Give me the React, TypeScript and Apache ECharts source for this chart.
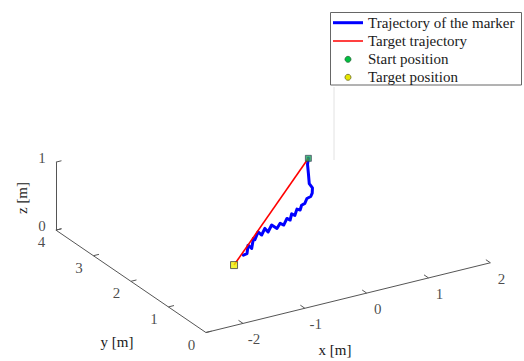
import React, { useEffect, useRef } from "react";
import * as echarts from "echarts";

// ---- data (metres) ----
const trajX = [0.47, 0.45, 0.47, 0.49, 0.56, 0.55, 0.52, 0.44, 0.40, 0.33, 0.30, 0.23, 0.19, 0.12, 0.09, 0.02, -0.05, -0.12, -0.19, -0.30, -0.37, -0.44, -0.51, -0.58, -0.65, -0.68, -0.72, -0.79, -0.82, -0.89];
const trajY = [2.33, 2.32, 2.33, 2.34, 2.37, 2.36, 2.35, 2.32, 2.31, 2.28, 2.27, 2.24, 2.23, 2.20, 2.19, 2.16, 2.13, 2.11, 2.08, 2.04, 2.02, 1.99, 1.96, 1.94, 1.91, 1.90, 1.88, 1.86, 1.84, 1.82];
const trajZ = [1.00, 0.92, 0.78, 0.62, 0.53, 0.46, 0.42, 0.42, 0.36, 0.36, 0.30, 0.34, 0.26, 0.31, 0.23, 0.28, 0.21, 0.26, 0.21, 0.30, 0.22, 0.30, 0.23, 0.30, 0.21, 0.24, 0.11, 0.18, 0.07, 0.07];
const startPos = [0.47, 2.33, 1.0];
const targetPos = [-1.09, 1.74, 0.0];

const xTicks = [-2, -1, 0, 1, 2];
const yTicks = [0, 1, 2, 3, 4];
const zTicks = [0, 1];
const xRange = [-2.6, 2];
const yRange = [0, 4];
const zRange = [0, 1];

const legendNames = ["Trajectory of the marker", "Target trajectory", "Start position", "Target position"];

// ---- view (orthographic projection of the 3-D axes onto the page) ----
const ORIGIN = [366.7, 293.1];
const EX = [61.84, -15.16];
const EY = [-37.5, -25.6];
const EZ = [0, -68];
const W = 524;
const H = 361;

function proj(x: number, y: number, z: number): number[] {
  return [
    ORIGIN[0] + x * EX[0] + y * EY[0] + z * EZ[0],
    ORIGIN[1] + x * EX[1] + y * EY[1] + z * EZ[1],
  ];
}

const FONT = "'Liberation Serif', 'Times New Roman', serif";
const AXIS_COLOR = "#555";
const TEXT_COLOR = "#1a1a1a";

export default function App() {
  const ref = useRef<HTMLDivElement>(null);
  useEffect(() => {
    if (!ref.current) return;
    const chart = echarts.init(ref.current, null, { renderer: "svg" });

    const x0 = xRange[0];
    const yTop = yRange[1];
    const axisSegs = [
      [proj(xRange[0], 0, 0), proj(xRange[1], 0, 0)],
      [proj(x0, yRange[0], 0), proj(x0, yRange[1], 0)],
      [proj(x0, yTop, zRange[0]), proj(x0, yTop, zRange[1])],
    ];
    const tickSegs: number[][][] = [];
    xTicks.forEach((t) => tickSegs.push([proj(t, 0, 0), proj(t, 0.12, 0)]));
    yTicks.forEach((t) => tickSegs.push([proj(x0, t, 0), proj(x0 + 0.09, t, 0)]));
    zTicks.forEach((t) => tickSegs.push([proj(x0, yTop, t), proj(x0 + 0.09, yTop, t)]));

    const labelSeries = (items: { p: number[]; n: string }[], offset: number[]) => ({
      type: "scatter",
      symbolSize: 0,
      silent: true,
      data: items.map((it) => ({ value: it.p, name: it.n })),
      label: {
        show: true,
        position: "inside",
        offset,
        formatter: "{b}",
        fontFamily: FONT,
        fontSize: 15,
        color: TEXT_COLOR,
        align: "center",
        verticalAlign: "middle",
      },
      z: 5,
    });

    const traj = trajX.map((x, i) => proj(x, trajY[i], trajZ[i]));

    const legendRows = [22.7, 41, 59.3, 77.3];
    const lx = 333;
    const graphic: any[] = [
      { type: "line", shape: { x1: 334, y1: 87, x2: 334, y2: 160 }, style: { stroke: "#e2e2e2", lineWidth: 1 }, z: 1 },
      { type: "rect", shape: { x: 330.5, y: 12.5, width: 191, height: 72.5 }, style: { fill: "#fff", stroke: "#666", lineWidth: 1 }, z: 10 },
      { type: "line", shape: { x1: lx, y1: legendRows[0], x2: lx + 30, y2: legendRows[0] }, style: { stroke: "#0000ff", lineWidth: 3 }, z: 11 },
      { type: "line", shape: { x1: lx, y1: legendRows[1], x2: lx + 30, y2: legendRows[1] }, style: { stroke: "#ff0000", lineWidth: 1.5 }, z: 11 },
      { type: "circle", shape: { cx: lx + 15, cy: legendRows[2], r: 3 }, style: { fill: "#00c040", stroke: "#2a6a3a", lineWidth: 0.8 }, z: 11 },
      { type: "circle", shape: { cx: lx + 15, cy: legendRows[3], r: 3 }, style: { fill: "#e6e600", stroke: "#6a6a2a", lineWidth: 0.8 }, z: 11 },
      ...legendNames.map((n, i) => ({
        type: "text",
        x: 368,
        y: legendRows[i],
        style: { text: n, font: `15px ${FONT}`, fill: TEXT_COLOR, verticalAlign: "middle", align: "left" },
        z: 11,
      })),
      { type: "text", x: 335, y: 350, style: { text: "x [m]", font: `15px ${FONT}`, fill: TEXT_COLOR, align: "center", verticalAlign: "middle" }, z: 5 },
      { type: "text", x: 117, y: 342, style: { text: "y [m]", font: `15px ${FONT}`, fill: TEXT_COLOR, align: "center", verticalAlign: "middle" }, z: 5 },
      { type: "text", x: 22, y: 198, rotation: Math.PI / 2, style: { text: "z [m]", font: `15px ${FONT}`, fill: TEXT_COLOR, align: "center", verticalAlign: "middle" }, z: 5 },
    ];

    chart.setOption({
      animation: false,
      backgroundColor: "#fff",
      grid: { left: 0, right: 0, top: 0, bottom: 0 },
      xAxis: { type: "value", min: 0, max: W, show: false },
      yAxis: { type: "value", min: 0, max: H, inverse: true, show: false },
      series: [
        {
          type: "lines",
          coordinateSystem: "cartesian2d",
          silent: true,
          data: axisSegs.concat(tickSegs).map((c) => ({ coords: c })),
          lineStyle: { color: AXIS_COLOR, width: 1, opacity: 1 },
          z: 2,
        },
        labelSeries(xTicks.map((t) => ({ p: proj(t, 0, 0), n: String(t) })), [11, 16]),
        labelSeries(yTicks.map((t) => ({ p: proj(x0, t, 0), n: String(t) })), [-14.5, 12]),
        labelSeries(zTicks.map((t) => ({ p: proj(x0, yTop, t), n: String(t) })), [-14, -4]),
        {
          name: legendNames[0],
          type: "line",
          data: traj,
          showSymbol: false,
          lineStyle: { color: "#0000ff", width: 3, join: "round", cap: "round" },
          z: 3,
        },
        {
          name: legendNames[1],
          type: "line",
          data: [proj(startPos[0], startPos[1], startPos[2]), proj(targetPos[0], targetPos[1], targetPos[2])],
          showSymbol: false,
          lineStyle: { color: "#ff0000", width: 1.6 },
          z: 4,
        },
        {
          name: legendNames[2],
          type: "scatter",
          symbol: "rect",
          symbolSize: 6,
          data: [proj(startPos[0], startPos[1], startPos[2])],
          itemStyle: { color: "#1fa85a", borderColor: "#335", borderWidth: 0.8 },
          z: 6,
        },
        {
          name: legendNames[3],
          type: "scatter",
          symbol: "rect",
          symbolSize: 7,
          data: [proj(targetPos[0], targetPos[1], targetPos[2])],
          itemStyle: { color: "#f0f000", borderColor: "#444", borderWidth: 1 },
          z: 6,
        },
      ],
      graphic,
    });
    return () => chart.dispose();
  }, []);
  return <div ref={ref} style={{ position: "fixed", left: 0, top: 0, width: W, height: H }} />;
}
